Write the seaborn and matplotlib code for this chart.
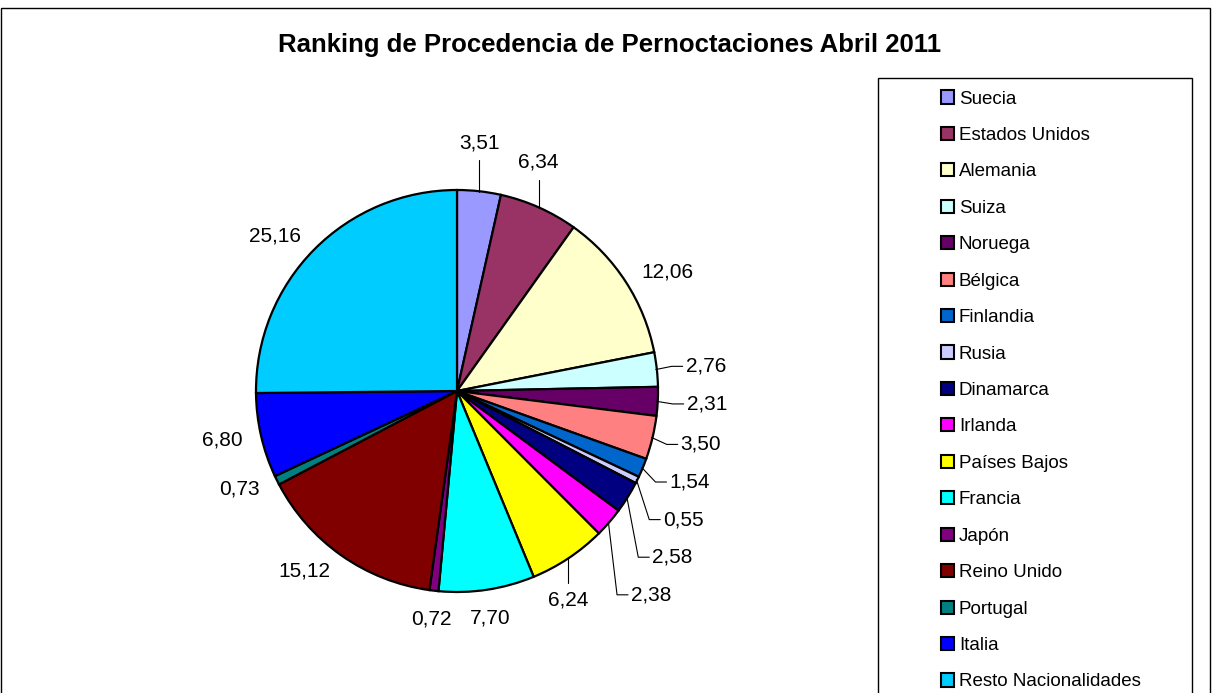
import seaborn as sns
import matplotlib.pyplot as plt
import numpy as np
from matplotlib.patches import Rectangle, Patch

# data
countries = ["Suecia", "Estados Unidos", "Alemania", "Suiza", "Noruega", "Bélgica",
             "Finlandia", "Rusia", "Dinamarca", "Irlanda", "Países Bajos", "Francia",
             "Japón", "Reino Unido", "Portugal", "Italia", "Resto Nacionalidades"]
shares = [3.51, 6.34, 12.06, 2.76, 2.31, 3.50, 1.54, 0.55, 2.58, 2.38, 6.24, 7.70,
          0.72, 15.12, 0.73, 6.80, 25.16]
hex_colors = ["#9999FF", "#993366", "#FFFFCC", "#CCFFFF", "#660066", "#FF8080",
              "#0066CC", "#CCCCFF", "#000080", "#FF00FF", "#FFFF00", "#00FFFF",
              "#800080", "#800000", "#008080", "#0000FF", "#00CCFF"]
title = "Ranking de Procedencia de Pernoctaciones Abril 2011"

sns.set_style("white")
plt.rcParams["font.family"] = ["Liberation Sans", "DejaVu Sans"]
plt.rcParams["text.color"] = "black"
palette = sns.color_palette(hex_colors)

W, H = 1213, 693
fig = plt.figure(figsize=(W / 100, H / 100), dpi=100)

# chart frame
fig.patches.append(Rectangle((1 / W, -0.05), 1209 / W, 1.05 - 8 / H,
                             transform=fig.transFigure, fill=False,
                             edgecolor="black", linewidth=1.0))

fig.text(610 / W, 1 - 45 / H, title, ha="center", va="center",
         fontsize=18.5, fontweight="bold")

# pie axes: 600 px square centred at (457, 391)
cx, cy, half = 457, 391, 300
ax = fig.add_axes([(cx - half) / W, 1 - (cy + half) / H, 2 * half / W, 2 * half / H])

wedges, _ = ax.pie(shares, colors=palette, startangle=90, counterclock=False,
                   radius=1.005,
                   wedgeprops=dict(edgecolor="black", linewidth=1.6))
ax.set_xlim(-1.5, 1.5)
ax.set_ylim(-1.5, 1.5)
ax.set_aspect("equal")
ax.axis("off")

fs = 15
prev_y = None
gap = 0.188
for w, v in zip(wedges, shares):
    mid = np.deg2rad((w.theta1 + w.theta2) / 2)
    c, s = np.cos(mid), np.sin(mid)
    phi = (90 - np.rad2deg(mid)) % 360
    txt = f"{v:.2f}".replace(".", ",")
    leader = v < 7 and phi < 150
    if leader and 60 < phi < 140:
        x = 1.15 * c
        y = 1.15 * s
        if prev_y is not None:
            y = min(y, prev_y - gap)
        prev_y = y
        ax.text(x, y, txt, ha="left", va="center", fontsize=fs)
        ax.plot([c, x - 0.07, x - 0.015], [s, y, y], color="black",
                linewidth=0.8, clip_on=False)
    elif leader:
        x = c
        y = 1.2 * s
        va = "bottom" if s > 0 else "top"
        ax.text(x, y, txt, ha="center", va=va, fontsize=fs)
        yl = y - 0.04 if s > 0 else y + 0.04
        ax.plot([c, x], [s, yl], color="black", linewidth=0.8, clip_on=False)
    else:
        x, y = 1.1 * c, 1.1 * s
        if abs(x) < 0.3:
            ha = "center"
        else:
            ha = "left" if x > 0 else "right"
        va = "center"
        if y < -0.9:
            va = "top"
        elif y > 0.9:
            va = "bottom"
        ax.text(x, y, txt, ha=ha, va=va, fontsize=fs)

# legend box
fig.patches.append(Rectangle((878 / W, -0.05), 314 / W, 1.05 - 78 / H,
                             transform=fig.transFigure, fill=False,
                             edgecolor="black", linewidth=1.0))
handles = [Patch(facecolor=col, edgecolor="black", linewidth=1.5) for col in palette]
fig.legend(handles, countries, loc="upper center",
           bbox_to_anchor=(1041 / W, 1 - 81 / H), frameon=False,
           fontsize=13.5, handlelength=0.7, handleheight=0.7,
           handletextpad=0.25, labelspacing=1.03, borderpad=0)

fig.savefig("out.png", dpi=100)
plt.close(fig)
